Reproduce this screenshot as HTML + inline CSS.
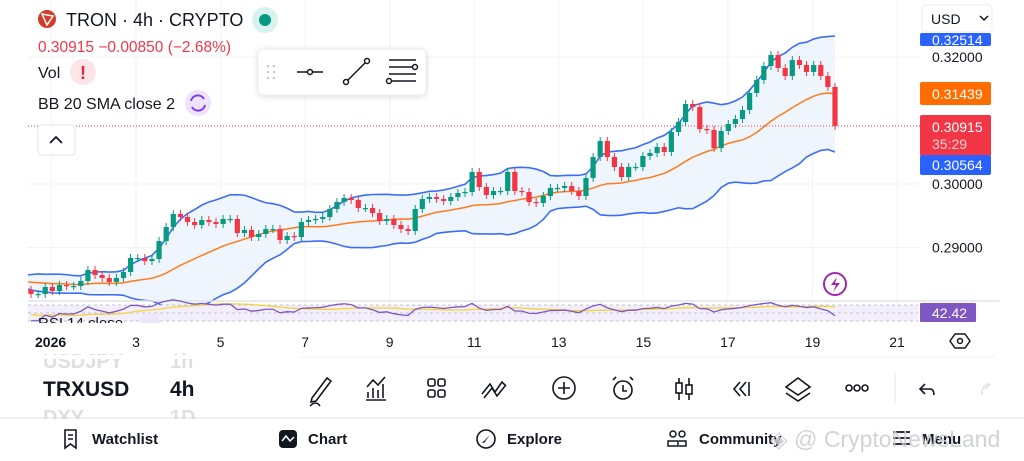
<!DOCTYPE html>
<html><head><meta charset="utf-8"><style>
html,body{margin:0;padding:0;background:#fff;width:1024px;height:461px;overflow:hidden;font-family:"Liberation Sans",sans-serif}
svg{position:absolute;left:0;top:0}
</style></head><body>
<svg id="chart" width="1024" height="461" viewBox="0 0 1024 461" font-family="Liberation Sans, sans-serif">
  <g id="grid"></g>
  <g id="bands"></g>
  <line x1="28" y1="126" x2="920" y2="126" stroke="#f23645" stroke-width="1" stroke-dasharray="1,2"/>
  <g id="candles"></g>
  <g id="rsi"></g>

  <text x="38" y="328" font-size="15" fill="#131722">RSI 14 close</text>
  <circle cx="150" cy="323" r="10" fill="#ede4fc" opacity="0.9"/>
  <rect x="0" y="323" width="918" height="10" fill="#fff"/>
  <g id="axes"></g>

  <!-- header -->
  <g>
    <circle cx="47" cy="19" r="9" fill="#d23a2a"/>
    <path d="M42 14 L53 16 L47 25 Z" fill="none" stroke="#fff" stroke-width="1.5"/>
    <text x="66" y="26" font-size="18" fill="#131722">TRON · 4h · CRYPTO</text>
    <circle cx="265" cy="20" r="13" fill="#d9f2ee"/>
    <circle cx="265" cy="20" r="6" fill="#089981"/>
  </g>
  <text x="38" y="52" font-size="15.5" fill="#f23645">0.30915  −0.00850 (−2.68%)</text>
  <text x="38" y="78" font-size="16" fill="#131722">Vol</text>
  <circle cx="83" cy="72" r="13" fill="#fde4e6"/>
  <text x="83" y="79" font-size="18" font-weight="bold" fill="#e0263a" text-anchor="middle">!</text>
  <text x="38" y="109" font-size="16" fill="#131722">BB 20 SMA close 2</text>
  <circle cx="198" cy="103" r="13" fill="#ede4fc"/>
  <path d="M191 101 A7 7 0 0 1 204 99 M205 105 A7 7 0 0 1 192 107" fill="none" stroke="#7c3aed" stroke-width="2"/>
  <rect x="38" y="125" width="37" height="30" rx="3" fill="#fff" stroke="#e0e3eb"/>
  <path d="M50 143 L56 137 L62 143" fill="none" stroke="#131722" stroke-width="1.8"/>

  <!-- floating drawing toolbar -->
  <g>
    <rect x="258" y="49" width="168" height="46" rx="6" fill="#fff" stroke="#eceef2" style="filter:drop-shadow(0 1px 3px rgba(0,0,0,0.15))"/>
    <g fill="#c8cbd3"><circle cx="268" cy="66" r="1.3"/><circle cx="274" cy="66" r="1.3"/><circle cx="268" cy="72" r="1.3"/><circle cx="274" cy="72" r="1.3"/><circle cx="268" cy="78" r="1.3"/><circle cx="274" cy="78" r="1.3"/></g>
    <g stroke="#131722" stroke-width="1.5" fill="#fff">
      <line x1="297" y1="72" x2="323" y2="72"/><circle cx="310" cy="72" r="2.5"/>
      <line x1="346" y1="82" x2="367" y2="61"/><circle cx="346" cy="82" r="2.5"/><circle cx="367" cy="61" r="2.5"/>
      <line x1="389" y1="60" x2="416" y2="60"/><line x1="389" y1="67" x2="412" y2="67"/><circle cx="415" cy="67" r="2.5"/><line x1="389" y1="74" x2="416" y2="74"/><line x1="392" y1="81" x2="416" y2="81"/><circle cx="389" cy="81" r="2.5"/>
    </g>
  </g>

  <!-- price labels -->
  <rect x="920" y="33" width="71" height="13" rx="2" fill="#2962ff"/>
  <text x="932" y="45" font-size="14" fill="#fff">0.32514</text>

  <!-- currency dropdown -->
  <rect x="922" y="5" width="70" height="27" rx="4" fill="#fff" stroke="#eceef2"/>
  <text x="931" y="24" font-size="14" fill="#131722">USD</text>
  <path d="M980 16 L984 20 L988 16" fill="none" stroke="#131722" stroke-width="1.5"/>

  <rect x="920" y="82" width="71" height="23" rx="2" fill="#ff6d00"/>
  <text x="932" y="99" font-size="14" fill="#fff">0.31439</text>
  <rect x="920" y="115" width="71" height="41" rx="2" fill="#f23645"/>
  <text x="932" y="132" font-size="14" fill="#fff">0.30915</text>
  <text x="932" y="149" font-size="14" fill="#ffd0d4">35:29</text>
  <rect x="920" y="155" width="71" height="20" rx="2" fill="#2962ff"/>
  <text x="932" y="170" font-size="14" fill="#fff">0.30564</text>
  <rect x="920" y="303" width="56" height="19" rx="1" fill="#7e57c2"/>
  <text x="932" y="318" font-size="14" fill="#fff">42.42</text>

  <circle cx="835" cy="284" r="11" fill="#fff" stroke="#9c27b0" stroke-width="2"/>
  <path d="M837 277 L831 285 L836 285 L833 292 L840 283 L835 283 Z" fill="#9c27b0"/>

  <!-- separator lines -->
  <line x1="20" y1="357" x2="995" y2="357" stroke="#f0f1f4" stroke-width="1"/>
  <line x1="0" y1="418" x2="1024" y2="418" stroke="#eceef2" stroke-width="1.5"/>

  <!-- hexagon settings -->
  <path d="M955 334 L965 334 L970 341 L965 348 L955 348 L950 341 Z" fill="none" stroke="#131722" stroke-width="1.5"/>
  <circle cx="960" cy="341" r="2.5" fill="none" stroke="#131722" stroke-width="1.5"/>

  <!-- symbol picker -->
  <text x="43" y="368" font-size="20" fill="#c8cad0" font-weight="bold" opacity="0.6">USDJPY</text>
  <text x="170" y="368" font-size="20" fill="#c8cad0" font-weight="bold" opacity="0.6">1h</text>
  <text x="43" y="396" font-size="21" fill="#131722" font-weight="bold">TRXUSD</text>
  <text x="170" y="396" font-size="21" fill="#131722" font-weight="bold">4h</text>
  <text x="43" y="424" font-size="20" fill="#c8cad0" font-weight="bold" opacity="0.6">DXY</text>
  <text x="170" y="424" font-size="20" fill="#c8cad0" font-weight="bold" opacity="0.6">1D</text>
  <rect x="0" y="419" width="300" height="12" fill="#fff"/>
  <rect x="0" y="355" width="300" height="4" fill="#fff"/>

  <!-- bottom toolbar icons -->
  <g stroke="#131722" stroke-width="1.6" fill="none">
    <path d="M312 398 L327 378 L331 381 L316 401 L311 402 Z M310 406 Q316 400 320 406"/>
    <path d="M368 398 L368 392 M373 398 L373 388 M378 398 L378 390 M383 398 L383 384 M366 400 L386 400 M367 387 L373 380 L378 385 L385 377"/>
    <rect x="428" y="379" width="7" height="7" rx="2"/><rect x="438" y="379" width="7" height="7" rx="2"/><rect x="428" y="390" width="7" height="7" rx="2"/><rect x="438" y="390" width="7" height="7" rx="2"/>
    <path d="M482 394 L490 384 L495 392 L502 382 L506 386 M484 398 L492 388 L497 396 L505 386"/>
    <circle cx="564" cy="388" r="11"/><path d="M564 382 L564 394 M558 388 L570 388"/>
    <circle cx="623" cy="390" r="9"/><path d="M623 385 L623 391 L627 391 M613 380 L616 377 M633 380 L630 377"/>
    <path d="M679 378 L679 400 M689 378 L689 400"/><rect x="676" y="383" width="6" height="10" fill="#fff"/><rect x="686" y="385" width="6" height="9" fill="#fff"/>
    <path d="M740 382 L734 389 L740 396 M746 382 L740 389 L746 396 M749 382 L749 396"/>
    <path d="M798 378 L810 387 L798 395 L786 387 Z M786 393 L798 401 L810 393"/>
    <circle cx="849" cy="388" r="3"/><circle cx="857" cy="388" r="3"/><circle cx="865" cy="388" r="3"/>
    <path d="M925 384 L920 389 L925 394 M920 389 L930 389 Q934 389 934 395"/>
  </g>
  <line x1="895" y1="373" x2="895" y2="403" stroke="#e0e3eb"/>
  <path d="M990 384 L985 389 M990 384 Q982 384 982 395" stroke="#e0e3eb" stroke-width="1.6" fill="none"/>

  <!-- tab bar -->
  <g font-size="15" fill="#131722">
    <g stroke="#131722" stroke-width="1.6" fill="none"><path d="M65 430 L76 430 L76 448 L70.5 444 L65 448 Z M68 435 L73 435 M68 439 L73 439"/></g>
    <text x="92" y="444" font-weight="bold">Watchlist</text>
    <rect x="279" y="430" width="18" height="18" rx="4" fill="#131722"/>
    <path d="M282 441 L286 436 L290 441 L294 437" stroke="#fff" stroke-width="1.5" fill="none"/>
    <text x="308" y="444" font-weight="bold">Chart</text>
    <circle cx="486" cy="439" r="9" stroke="#131722" stroke-width="1.6" fill="none"/>
    <path d="M490 435 L484 443 L482 443 Z" fill="#131722"/>
    <text x="507" y="444" font-weight="bold">Explore</text>
    <g stroke="#131722" stroke-width="1.5" fill="none"><circle cx="673" cy="434" r="3"/><circle cx="682" cy="434" r="3"/><path d="M668 446 L668 441 L678 441 L678 446 Z M679 441 L686 441 L686 446 L679 446"/></g>
    <text x="699" y="444" font-weight="bold">Community</text>
    <path d="M893 432 L910 432 M893 438 L910 438 M893 444 L910 444" stroke="#131722" stroke-width="1.8"/>
    <text x="922" y="444" font-weight="bold">Menu</text>
  </g>
  <text x="770" y="447" font-size="23" fill="#c9cbd0" opacity="0.85">◈ @ CryptoNewsLand</text>
</svg>
<script>
// ---- data ----
const priorCloses=[0.2848,0.2851,0.2846,0.2843,0.2849,0.2853,0.2850,0.2845,0.2842,0.2847,0.2852,0.2849,0.2844,0.2841,0.2846,0.2850,0.2847,0.2843,0.2840];
const closes=[0.28268,0.28268,0.28378,0.28315,0.28409,0.28394,0.28394,0.28472,0.28646,0.28567,0.28520,0.28457,0.28520,0.28614,0.28835,0.28835,0.28787,0.28819,0.29102,0.29323,
0.29528,0.29480,0.29402,0.29354,0.29433,0.29402,0.29370,0.29449,0.29449,0.29228,0.29276,0.29165,0.29213,0.29291,0.29291,0.29118,0.29181,0.29165,0.29402,0.29433,
0.29449,0.29480,0.29606,0.29717,0.29780,0.29748,0.29622,0.29622,0.29543,0.29417,0.29449,0.29354,0.29291,0.29260,0.29606,0.29764,0.29795,0.29764,0.29732,0.29795,
0.29858,0.29874,0.30189,0.29953,0.29827,0.29890,0.29890,0.30189,0.29890,0.29874,0.29717,0.29701,0.29811,0.29937,0.29937,0.29969,0.29890,0.29811,0.30095,0.30425,
0.30677,0.30425,0.30268,0.30110,0.30268,0.30268,0.30441,0.30488,0.30583,0.30504,0.30819,0.30977,0.31260,0.31213,0.30866,0.30851,0.30567,0.30835,0.30945,0.31024,
0.31166,0.31433,0.31638,0.31859,0.32032,0.31827,0.31701,0.31953,0.31874,0.31764,0.31874,0.31701,0.31528,0.30915];
const firstOpen=0.28330;
const dateLabels=["2026","3","5","7","9","11","13","15","17","19","21"];
const dateDays=[1,3,5,7,9,11,13,15,17,19,21];
const priceTicks=[0.32,0.30,0.29];
const priceTickLabels=["0.32000","0.30000","0.29000"];

// ---- scales ----
const STEP=804/(closes.length-1);
const X=i=>31+i*STEP;
const Y=p=>184-(p-0.30)*6350;
const XD=d=>136+(d-3)*42.28;
const NS="http://www.w3.org/2000/svg";
function mk(tag,attrs,parent){const e=document.createElementNS(NS,tag);for(const k in attrs)e.setAttribute(k,attrs[k]);parent.appendChild(e);return e;}

const grid=document.getElementById('grid');
dateDays.forEach(d=>{const l=mk('line',{x1:XD(d),y1:0,x2:XD(d),y2:323,stroke:'#f2f3f5'},grid);

});
priceTicks.forEach(p=>{const l=mk('line',{x1:28,y1:Y(p),x2:918,y2:Y(p),stroke:'#f2f3f5'},grid);

});

// Bollinger
const all=priorCloses.concat(closes);const off=priorCloses.length;
const up=[],mid=[],lo=[];
closes.forEach((c,i)=>{const w=all.slice(i+off-19,i+off+1);const m=w.reduce((a,b)=>a+b,0)/w.length;
const sd=Math.sqrt(w.reduce((a,b)=>a+(b-m)*(b-m),0)/w.length);mid.push(m);up.push(m+2*sd);lo.push(m-2*sd);});
const bands=document.getElementById('bands');
const pu=up.map((v,i)=>[i===0?28:X(i),Y(v)]),pl=lo.map((v,i)=>[i===0?28:X(i),Y(v)]);
const fillPts=pu.concat(pl.slice().reverse()).map(p=>p.join(',')).join(' ');
const bf=mk('polygon',{points:fillPts,fill:'#eef5fc'},bands);


const bu=mk('polyline',{points:pu.map(p=>p.join(',')).join(' '),fill:'none',stroke:'#3c6ef5','stroke-width':1.6},bands);


const bl=mk('polyline',{points:pl.map(p=>p.join(',')).join(' '),fill:'none',stroke:'#3c6ef5','stroke-width':1.6},bands);


const bm=mk('polyline',{points:mid.map((v,i)=>(i===0?28:X(i))+','+Y(v)).join(' '),fill:'none',stroke:'#ff7a1a','stroke-width':1.5},bands);



// candles
const cg=document.getElementById('candles');
closes.forEach((c,i)=>{const o=i===0?firstOpen:closes[i-1];const col=c>=o?'#089981':'#f23645';
const yt=Math.min(Y(o),Y(c)),yb=Math.max(Y(o),Y(c));const g=mk('g',{},cg);


mk('line',{x1:X(i),y1:yt-4,x2:X(i),y2:yb+4,stroke:col,'stroke-width':1},g);
mk('rect',{x:X(i)-2.6,y:yt,width:5.2,height:Math.max(1.2,yb-yt),fill:col},g);});

// RSI
const rg=document.getElementById('rsi');
mk('line',{x1:28,y1:301,x2:1000,y2:301,stroke:'#e0e3eb','stroke-width':1.5},rg);
mk('rect',{x:28,y:305,width:890,height:16,fill:'#f3eefb'},rg);
[305,313,321].forEach(y=>mk('line',{x1:28,y1:y,x2:918,y2:y,stroke:'#b2b5be','stroke-dasharray':'3,3','stroke-width':0.8},rg));
const rsi=[];let ag=0,al=0;
all.forEach((c,i)=>{if(i===0){rsi.push(50);return;}const d=c-all[i-1];const g=Math.max(d,0),l=Math.max(-d,0);
ag=(ag*13+g)/14;al=(al*13+l)/14;rsi.push(al===0?70:100-100/(1+ag/al));});
const rv=rsi.slice(off);const RY=r=>313-(r-50)*0.4;
const rma=rv.map((v,i)=>{const w=rsi.slice(i+off-13,i+off+1);return w.reduce((a,b)=>a+b,0)/w.length;});
const ry=mk('polyline',{points:rma.map((v,i)=>X(i)+','+RY(v)).join(' '),fill:'none',stroke:'#f5d33c','stroke-width':1.3},rg);


const rp=mk('polyline',{points:rv.map((v,i)=>X(i)+','+RY(v)).join(' '),fill:'none',stroke:'#7e57c2','stroke-width':1.3},rg);



// axes
const ax=document.getElementById('axes');
dateLabels.forEach((t,i)=>{const first=i===0;const e=mk('text',{x:first?35:XD(dateDays[i]),y:347,'font-size':14,fill:'#131722','text-anchor':first?'start':'middle','font-weight':first?'bold':'normal'},ax);e.textContent=t;

});
priceTicks.forEach((p,i)=>{const e=mk('text',{x:932,y:Y(p)+5,'font-size':14,fill:'#131722'},ax);e.textContent=priceTickLabels[i];

});
</script>
</body></html>
